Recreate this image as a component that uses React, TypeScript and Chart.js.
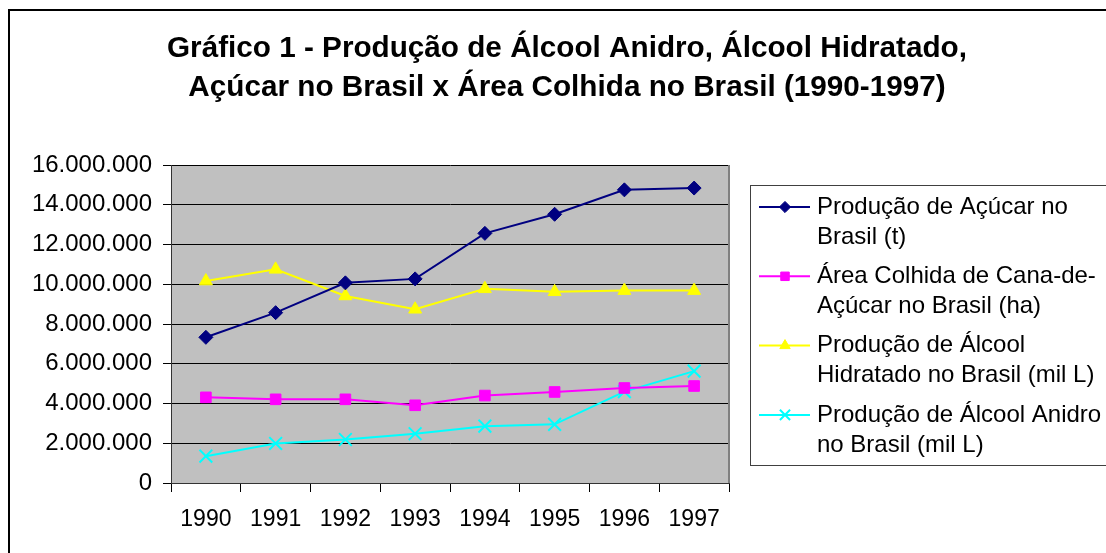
import React, { useEffect, useRef } from 'react';
import { Chart, registerables } from 'chart.js';

Chart.register(...registerables);

// ---- Data ----
const years = ['1990', '1991', '1992', '1993', '1994', '1995', '1996', '1997'];
const producaoAcucar = [7330000, 8570000, 10070000, 10270000, 12560000, 13520000, 14750000, 14840000];
const areaColhida = [4310000, 4210000, 4210000, 3910000, 4400000, 4580000, 4780000, 4880000];
const alcoolHidratado = [10160000, 10750000, 9410000, 8740000, 9770000, 9620000, 9680000, 9680000];
const alcoolAnidro = [1350000, 1990000, 2190000, 2480000, 2860000, 2950000, 4600000, 5630000];

const titleLines = [
  'Gráfico 1 - Produção de Álcool Anidro, Álcool Hidratado,',
  'Açúcar no Brasil x Área Colhida no Brasil (1990-1997)',
];
const legendLines = [
  ['Produção de Açúcar no', 'Brasil (t)'],
  ['Área Colhida de Cana-de-', 'Açúcar no Brasil (ha)'],
  ['Produção de Álcool', 'Hidratado no Brasil (mil L)'],
  ['Produção de Álcool Anidro', 'no Brasil (mil L)'],
];
const yMin = 0;
const yMax = 16000000;
const yStep = 2000000;

const FONT = '"Liberation Sans", Arial, Helvetica, sans-serif';

const fmt = (v: number) => Math.round(v).toString().replace(/\B(?=(\d{3})+(?!\d))/g, '.');

function drawMarker(ctx: CanvasRenderingContext2D, style: string, x: number, y: number, r: number, color: string, bw: number) {
  ctx.save();
  ctx.fillStyle = color;
  ctx.strokeStyle = color;
  ctx.lineWidth = bw;
  ctx.beginPath();
  if (style === 'rectRot') {
    ctx.moveTo(x - r, y);
    ctx.lineTo(x, y + r);
    ctx.lineTo(x + r, y);
    ctx.lineTo(x, y - r);
    ctx.closePath();
    ctx.fill();
    ctx.stroke();
  } else if (style === 'rect') {
    const s = r * Math.SQRT1_2;
    ctx.rect(x - s, y - s, 2 * s, 2 * s);
    ctx.fill();
    ctx.stroke();
  } else if (style === 'triangle') {
    let a = 0;
    ctx.moveTo(x + Math.sin(a) * r, y - Math.cos(a) * r);
    a += (2 * Math.PI) / 3;
    ctx.lineTo(x + Math.sin(a) * r, y - Math.cos(a) * r);
    a += (2 * Math.PI) / 3;
    ctx.lineTo(x + Math.sin(a) * r, y - Math.cos(a) * r);
    ctx.closePath();
    ctx.fill();
    ctx.stroke();
  } else {
    const o = r * Math.SQRT1_2;
    ctx.moveTo(x - o, y - o);
    ctx.lineTo(x + o, y + o);
    ctx.moveTo(x - o, y + o);
    ctx.lineTo(x + o, y - o);
    ctx.stroke();
  }
  ctx.restore();
}

const decorPlugin = {
  id: 'decor',
  beforeDraw(chart: any) {
    const { ctx, chartArea: a } = chart;
    ctx.save();
    ctx.fillStyle = '#C0C0C0';
    ctx.fillRect(a.left, a.top, a.right - a.left, a.bottom - a.top);
    ctx.restore();
  },
  beforeDatasetsDraw(chart: any) {
    const { ctx, chartArea: a } = chart;
    ctx.save();
    ctx.strokeStyle = '#808080';
    ctx.lineWidth = 2;
    ctx.beginPath();
    ctx.moveTo(a.right, a.top);
    ctx.lineTo(a.right, a.bottom);
    ctx.stroke();
    ctx.restore();
  },
  afterDraw(chart: any) {
    const { ctx } = chart;
    ctx.save();
    // Title
    ctx.fillStyle = '#000';
    ctx.font = `bold 29.7px ${FONT}`;
    ctx.textAlign = 'center';
    ctx.textBaseline = 'middle';
    titleLines.forEach((t, i) => ctx.fillText(t, 567, 49 + i * 39));

    // Legend box
    const bx = 750, by = 185, bw = 400, bh = 280;
    ctx.fillStyle = '#fff';
    ctx.fillRect(bx, by, bw, bh);
    ctx.strokeStyle = '#404040';
    ctx.lineWidth = 1;
    ctx.strokeRect(bx + 0.5, by + 0.5, bw, bh);

    ctx.font = `24px ${FONT}`;
    ctx.textAlign = 'left';
    ctx.textBaseline = 'middle';
    chart.data.datasets.forEach((ds: any, i: number) => {
      const y0 = by + 22 + i * 69.3;
      ctx.strokeStyle = ds.borderColor;
      ctx.lineWidth = 2;
      ctx.beginPath();
      ctx.moveTo(759, y0);
      ctx.lineTo(810, y0);
      ctx.stroke();
      drawMarker(ctx, ds.pointStyle, 785, y0, ds.pointRadius * 0.8, ds.borderColor, ds.pointBorderWidth);
      ctx.fillStyle = '#000';
      legendLines[i].forEach((t, j) => ctx.fillText(t, 817, y0 + j * 30));
    });
    ctx.restore();
  },
};

export default function App() {
  const ref = useRef<HTMLCanvasElement | null>(null);

  useEffect(() => {
    if (!ref.current) return;
    const mk = (label: string[], data: number[], color: string, style: string, r: number, pbw: number) => ({
      label: label.join(' '),
      data,
      borderColor: color,
      backgroundColor: color,
      borderWidth: 2,
      pointStyle: style,
      pointRadius: r,
      pointHoverRadius: r,
      pointBorderWidth: pbw,
      pointBackgroundColor: color,
      pointBorderColor: color,
      tension: 0,
      fill: false,
    });
    const chart = new Chart(ref.current, {
      type: 'line',
      data: {
        labels: years,
        datasets: [
          mk(legendLines[0], producaoAcucar, '#000080', 'rectRot', 7, 1),
          mk(legendLines[1], areaColhida, '#FF00FF', 'rect', 7.5, 1),
          mk(legendLines[2], alcoolHidratado, '#FFFF00', 'triangle', 7.5, 1),
          mk(legendLines[3], alcoolAnidro, '#00FFFF', 'crossRot', 9, 2),
        ],
      },
      options: {
        responsive: false,
        animation: false,
        devicePixelRatio: 1,
        layout: { padding: { top: 165, right: 377, left: 0, bottom: 0 } },
        plugins: {
          legend: { display: false },
          title: { display: false },
          tooltip: { enabled: false },
        },
        scales: {
          x: {
            type: 'category',
            offset: true,
            grid: { offset: true, drawOnChartArea: false, color: '#000', tickLength: 9, lineWidth: 1 },
            border: { color: '#333', width: 1 },
            ticks: { color: '#000', font: { family: FONT, size: 23 }, padding: 14, maxRotation: 0, autoSkip: false },
            afterFit: (s: any) => { s.height = 70; },
          },
          y: {
            min: yMin,
            max: yMax,
            grid: { color: '#000', tickLength: 8, lineWidth: 1 },
            border: { color: '#333', width: 1 },
            ticks: {
              stepSize: yStep,
              color: '#000',
              font: { family: FONT, size: 24 },
              padding: 11,
              callback: (v: any) => fmt(Number(v)),
            },
            afterFit: (s: any) => { s.width = 171; },
          },
        },
      },
      plugins: [decorPlugin],
    } as any);
    return () => chart.destroy();
  }, []);

  return (
    <div style={{ position: 'fixed', left: 0, top: 0, width: 1106, height: 553, overflow: 'hidden', background: '#fff' }}>
      <div style={{ position: 'absolute', left: 8, top: 9, width: 1200, height: 700, borderLeft: '2px solid #000', borderTop: '2px solid #000' }} />
      <canvas ref={ref} width={1106} height={553} style={{ position: 'absolute', left: 0, top: 0, width: 1106, height: 553 }} />
    </div>
  );
}
